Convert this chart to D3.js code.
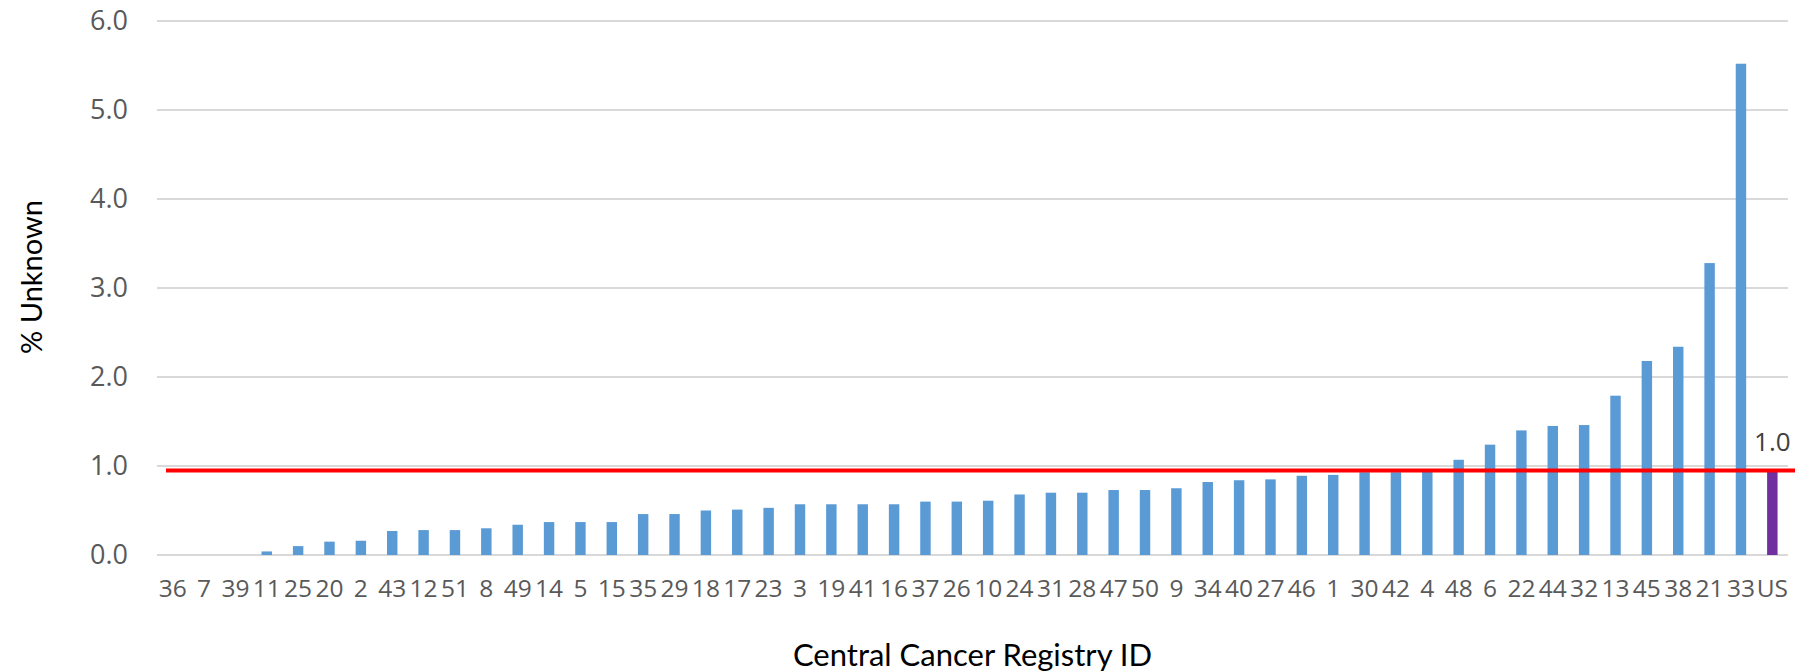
<!DOCTYPE html>
<html lang="en">
	<head>
		<meta charset="utf-8">
		<title>% Unknown by Central Cancer Registry</title>
		<script type="text/javascript" src="https://cdn.jsdelivr.net/npm/d3@7"></script>
		<style type="text/css">
			body { margin: 0; background: #fff; }
			.tick text { font-family: "Open Sans", sans-serif; }
		</style>
	</head>
	<body>
		<script type="text/javascript">

			//Width and height
			var w = 1797;
			var h = 672;

			//Registry IDs, in the order shown
			var registries = ["36","7","39","11","25","20","2","43","12","51","8","49","14","5","15","35","29","18","17","23",
				"3","19","41","16","37","26","10","24","31","28","47","50","9","34","40","27","46","1","30","42",
				"4","48","6","22","44","32","13","45","38","21","33","US"];

			//% unknown for each registry
			var pctUnknown = [0, 0, 0, 0.04, 0.10, 0.15, 0.16, 0.27, 0.28, 0.28, 0.30, 0.34, 0.37, 0.37, 0.37, 0.46, 0.46, 0.50, 0.51, 0.53,
				0.57, 0.57, 0.57, 0.57, 0.60, 0.60, 0.61, 0.68, 0.70, 0.70, 0.73, 0.73, 0.75, 0.82, 0.84, 0.85, 0.89, 0.90, 0.93, 0.93,
				0.94, 1.07, 1.24, 1.40, 1.45, 1.46, 1.79, 2.18, 2.34, 3.28, 5.52, 0.95];

			var yTicks = [0, 1, 2, 3, 4, 5, 6];
			var usLabel = "1.0";

			var margin = {top: 21, right: 9, bottom: 117, left: 157};

			var svg = d3.select("body")
						.append("svg")
						.attr("width", w)
						.attr("height", h);

			var x = d3.scaleBand()
					  .domain(registries)
					  .range([margin.left, w - margin.right])
					  .paddingInner(0.667)
					  .paddingOuter(0.333);

			var y = d3.scaleLinear()
					  .domain([0, 6])
					  .range([h - margin.bottom, margin.top]);

			//Gridlines
			svg.append("g")
			   .selectAll("line")
			   .data(yTicks)
			   .enter()
			   .append("line")
			   .attr("x1", margin.left)
			   .attr("x2", w - margin.right)
			   .attr("y1", function(d) { return y(d); })
			   .attr("y2", function(d) { return y(d); })
			   .attr("stroke", "#d9d9d9")
			   .attr("stroke-width", 2);

			//Y axis labels
			var yAxis = svg.append("g")
			   .attr("transform", "translate(" + margin.left + ",0)")
			   .call(d3.axisLeft(y).tickValues(yTicks).tickFormat(d3.format(".1f")).tickSize(0).tickPadding(29));
			yAxis.select(".domain").remove();
			yAxis.selectAll("text")
				 .attr("font-size", "27px")
				 .attr("fill", "#595959");

			//Bars
			var data = registries.map(function(r, i) { return {id: r, v: pctUnknown[i]}; });

			svg.selectAll("rect.bar")
			   .data(data)
			   .enter()
			   .append("rect")
			   .attr("class", "bar")
			   .attr("x", function(d) { return x(d.id); })
			   .attr("width", x.bandwidth())
			   .attr("y", function(d) { return y(d.v); })
			   .attr("height", function(d) { return y(0) - y(d.v); })
			   .attr("fill", function(d) { return d.id === "US" ? "#7030a0" : "#5b9bd5"; });

			//X axis labels
			var xAxis = svg.append("g")
			   .attr("transform", "translate(0," + y(0) + ")")
			   .call(d3.axisBottom(x).tickSize(0).tickPadding(25));
			xAxis.select(".domain").remove();
			xAxis.selectAll("text")
				 .attr("font-size", "24.5px")
				 .attr("fill", "#595959");

			//US reference line
			var usValue = pctUnknown[pctUnknown.length - 1];
			svg.append("line")
			   .attr("x1", margin.left + 9)
			   .attr("x2", w - 2)
			   .attr("y1", y(usValue))
			   .attr("y2", y(usValue))
			   .attr("stroke", "#ff0000")
			   .attr("stroke-width", 4);

			svg.append("text")
			   .attr("x", x("US") + x.bandwidth() / 2)
			   .attr("y", y(usValue) - 19)
			   .attr("text-anchor", "middle")
			   .attr("font-family", "Open Sans, sans-serif")
			   .attr("font-size", "26px")
			   .attr("fill", "#404040")
			   .text(usLabel);

			//Axis titles
			svg.append("text")
			   .attr("transform", "translate(42,277) rotate(-90)")
			   .attr("text-anchor", "middle")
			   .attr("font-family", "Lato, sans-serif")
			   .attr("font-size", "29px")
			   .attr("fill", "#000")
			   .text("% Unknown");

			svg.append("text")
			   .attr("x", (margin.left + w - margin.right) / 2)
			   .attr("y", 666)
			   .attr("text-anchor", "middle")
			   .attr("font-family", "Lato, sans-serif")
			   .attr("font-size", "31px")
			   .attr("fill", "#000")
			   .text("Central Cancer Registry ID");

		</script>
	</body>
</html>
